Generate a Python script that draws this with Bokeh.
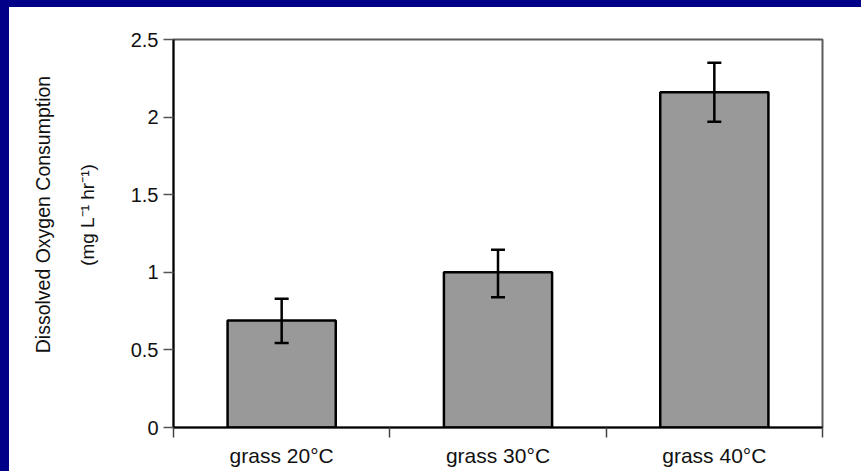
from bokeh.plotting import figure
from bokeh.models import (ColumnDataSource, Range1d, FixedTicker, Whisker, TeeHead,
                          LinearAxis, Spacer)
from bokeh.layouts import row, column
from bokeh.embed import file_html
from bokeh.resources import INLINE

# ---- data ----
categories = ["grass 20°C", "grass 30°C", "grass 40°C"]
consumption = [0.69, 1.00, 2.16]
err_upper = [0.83, 1.145, 2.35]
err_lower = [0.545, 0.84, 1.97]
y_ticks = [0, 0.5, 1, 1.5, 2, 2.5]
y_tick_labels = ["0", "0.5", "1", "1.5", "2", "2.5"]
y_label_1 = "Dissolved Oxygen Consumption"
y_label_2 = "(mg L\u207b\u00b9 hr\u207b\u00b9)"

FONT = "Liberation Sans"
TXT = "#111111"
BLUE = "#000088"
PAD = "\u00a0" * 7  # shifts the centred axis titles upward, as in the reference

xs = [i + 0.5 for i in range(len(categories))]
src = ColumnDataSource(dict(x=xs, top=consumption, upper=err_upper, lower=err_lower))

p = figure(width=852, height=464, output_backend="svg", toolbar_location=None,
           x_range=Range1d(0, len(categories)), y_range=Range1d(0, 2.5),
           min_border_left=164, min_border_right=39, min_border_top=32, min_border_bottom=44)
p.background_fill_color = "white"
p.border_fill_color = "white"
p.outline_line_color = "#5a5a5a"
p.outline_line_width = 2
p.xgrid.visible = False
p.ygrid.visible = False

p.vbar(x="x", top="top", width=0.5, bottom=0, source=src,
       fill_color="#999999", line_color="black", line_width=2.5)

wh = Whisker(source=src, base="x", upper="upper", lower="lower",
             line_color="black", line_width=2.5, level="overlay",
             upper_head=TeeHead(size=14, line_color="black", line_width=2.5),
             lower_head=TeeHead(size=14, line_color="black", line_width=2.5))
p.add_layout(wh)

# x axis
xa = p.xaxis[0]
xa.ticker = FixedTicker(ticks=xs, minor_ticks=list(range(len(categories) + 1)))
xa.major_label_overrides = {x: c for x, c in zip(xs, categories)}
xa.major_tick_out = 0
xa.major_tick_in = 0
xa.minor_tick_out = 10
xa.minor_tick_in = 0
xa.minor_tick_line_color = "#444444"
xa.minor_tick_line_width = 1.5
xa.axis_line_color = "black"
xa.axis_line_width = 2
xa.major_label_text_font = FONT
xa.major_label_text_font_size = "21px"
xa.major_label_text_color = TXT
xa.major_label_standoff = 6

# y axis
ya = p.yaxis[0]
ya.ticker = FixedTicker(ticks=y_ticks)
ya.major_label_overrides = {t: l for t, l in zip(y_ticks, y_tick_labels)}
ya.major_tick_out = 10
ya.major_tick_in = 0
ya.minor_tick_out = 0
ya.minor_tick_in = 0
ya.major_tick_line_color = "#555555"
ya.major_tick_line_width = 1.5
ya.axis_line_color = "black"
ya.axis_line_width = 2
ya.major_label_text_font = FONT
ya.major_label_text_font_size = "20px"
ya.major_label_text_color = TXT
ya.major_label_standoff = 5
ya.axis_label = PAD + y_label_2
ya.axis_label_text_font = FONT
ya.axis_label_text_font_size = "19px"
ya.axis_label_text_font_style = "normal"
ya.axis_label_text_color = TXT
ya.axis_label_standoff = 30

ya2 = LinearAxis(ticker=FixedTicker(ticks=[]), axis_line_color=None,
                 major_tick_out=0, major_tick_in=0, minor_tick_out=0, minor_tick_in=0,
                 major_label_text_font_size="0px", major_label_standoff=0,
                 axis_label=PAD + y_label_1, axis_label_text_font=FONT,
                 axis_label_text_font_size="19.5px", axis_label_text_font_style="normal",
                 axis_label_text_color=TXT, axis_label_standoff=20)
p.add_layout(ya2, "left")

left_strip = Spacer(width=9, height=471, styles={"background-color": BLUE})
top_strip = Spacer(width=852, height=7, styles={"background-color": BLUE})
layout = row(left_strip, column(top_strip, p, spacing=0), spacing=0)

open("out.html", "w").write(file_html(layout, INLINE))
